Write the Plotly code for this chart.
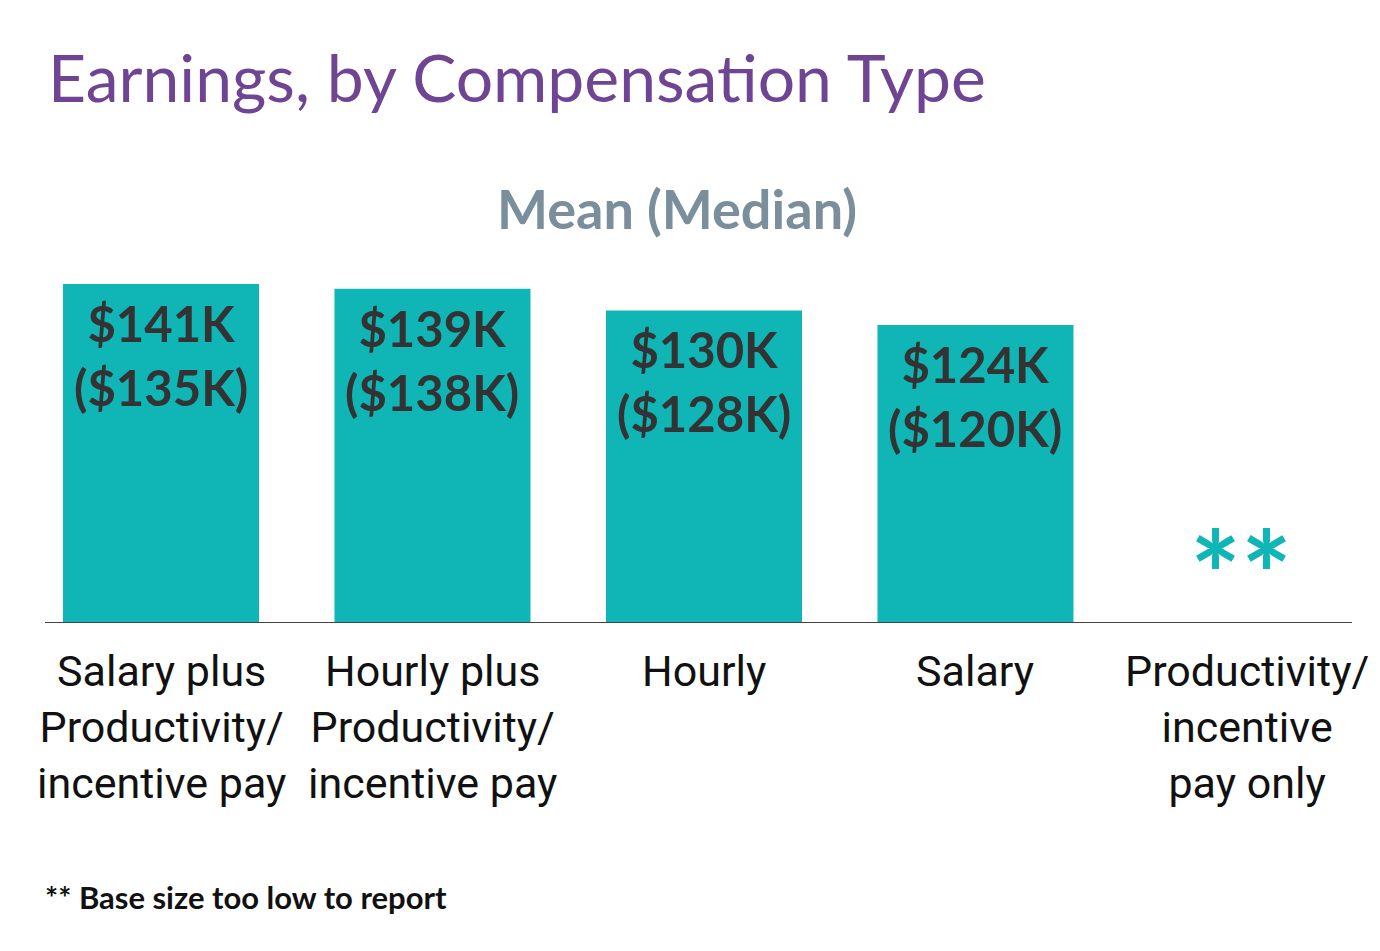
import plotly.graph_objects as go

categories = ["Salary plus<br>Productivity/<br>incentive pay",
              "Hourly plus<br>Productivity/<br>incentive pay",
              "Hourly",
              "Salary",
              "Productivity/<br>incentive<br>pay only"]
mean_k = [141, 139, 130, 124, None]
median_k = [135, 138, 128, 120, None]

title = "Earnings, by Compensation Type"
subtitle = "Mean (Median)"
footnote = "** Base size too low to report"
suppressed_mark = "**"

TEAL = "#10B5B6"
PURPLE = "#6F4593"
GREY = "#7A8F9B"
DARK = "#333333"

W, H = 1380, 951
T, B = 200, 328
PH = H - T - B


def py(pix):
    return (H - B - pix) / PH


xs = list(range(len(categories)))

fig = go.Figure()
fig.add_trace(go.Bar(
    x=xs, y=[v if v is not None else 0 for v in mean_k],
    width=0.722, marker=dict(color=TEAL, line=dict(width=0)),
    hoverinfo="skip",
))

annotations = []
for i, (m, md) in enumerate(zip(mean_k, median_k)):
    if m is not None:
        annotations.append(dict(
            x=i, y=m, xref="x", yref="y", yanchor="top", xanchor="center",
            yshift=-8, showarrow=False,
            text=f"${m}K<br>(${md}K)",
            font=dict(family="Lato", size=49, color=DARK, weight=700),
        ))
    else:
        annotations.append(dict(
            x=i, y=0, xref="x", yref="y", yanchor="bottom", xanchor="center",
            yshift=-25, xshift=-6, showarrow=False, text=suppressed_mark,
            font=dict(family="Lato", size=120, color=TEAL, weight=700),
        ))
    annotations.append(dict(
        x=i, y=0, xref="x", yref="y", yanchor="top", xanchor="center",
        yshift=-21, showarrow=False, text=categories[i],
        font=dict(family="Roboto", size=43, color="#111111"),
    ))

annotations += [
    dict(x=46/W, y=py(76), xref="paper", yref="paper", xanchor="left",
         yanchor="middle", showarrow=False, text=title,
         font=dict(family="Lato", size=66, color=PURPLE)),
    dict(x=677/W, y=py(208), xref="paper", yref="paper", xanchor="center",
         yanchor="middle", showarrow=False, text=subtitle,
         font=dict(family="Lato", size=54, color=GREY, weight=700)),
    dict(x=43/W, y=py(897), xref="paper", yref="paper", xanchor="left",
         yanchor="middle", showarrow=False, text=footnote,
         font=dict(family="Lato", size=31, color="#111111", weight=700)),
]

fig.update_layout(
    width=W, height=H,
    margin=dict(l=0, r=0, t=T, b=B, pad=0),
    paper_bgcolor="white", plot_bgcolor="white",
    showlegend=False,
    xaxis=dict(range=[-0.593, 4.490], showticklabels=False, showgrid=False,
               zeroline=False, showline=False, fixedrange=True),
    yaxis=dict(range=[0, PH / 2.404], visible=False, showgrid=False,
               zeroline=False, fixedrange=True),
    annotations=annotations,
    shapes=[dict(type="line", xref="paper", yref="y", x0=45/W, x1=1352/W,
                 y0=0, y1=0, line=dict(color="#444444", width=2))],
)

fig.write_html("out.html", config={"displayModeBar": False},
               post_script="document.body.style.margin='0';")
